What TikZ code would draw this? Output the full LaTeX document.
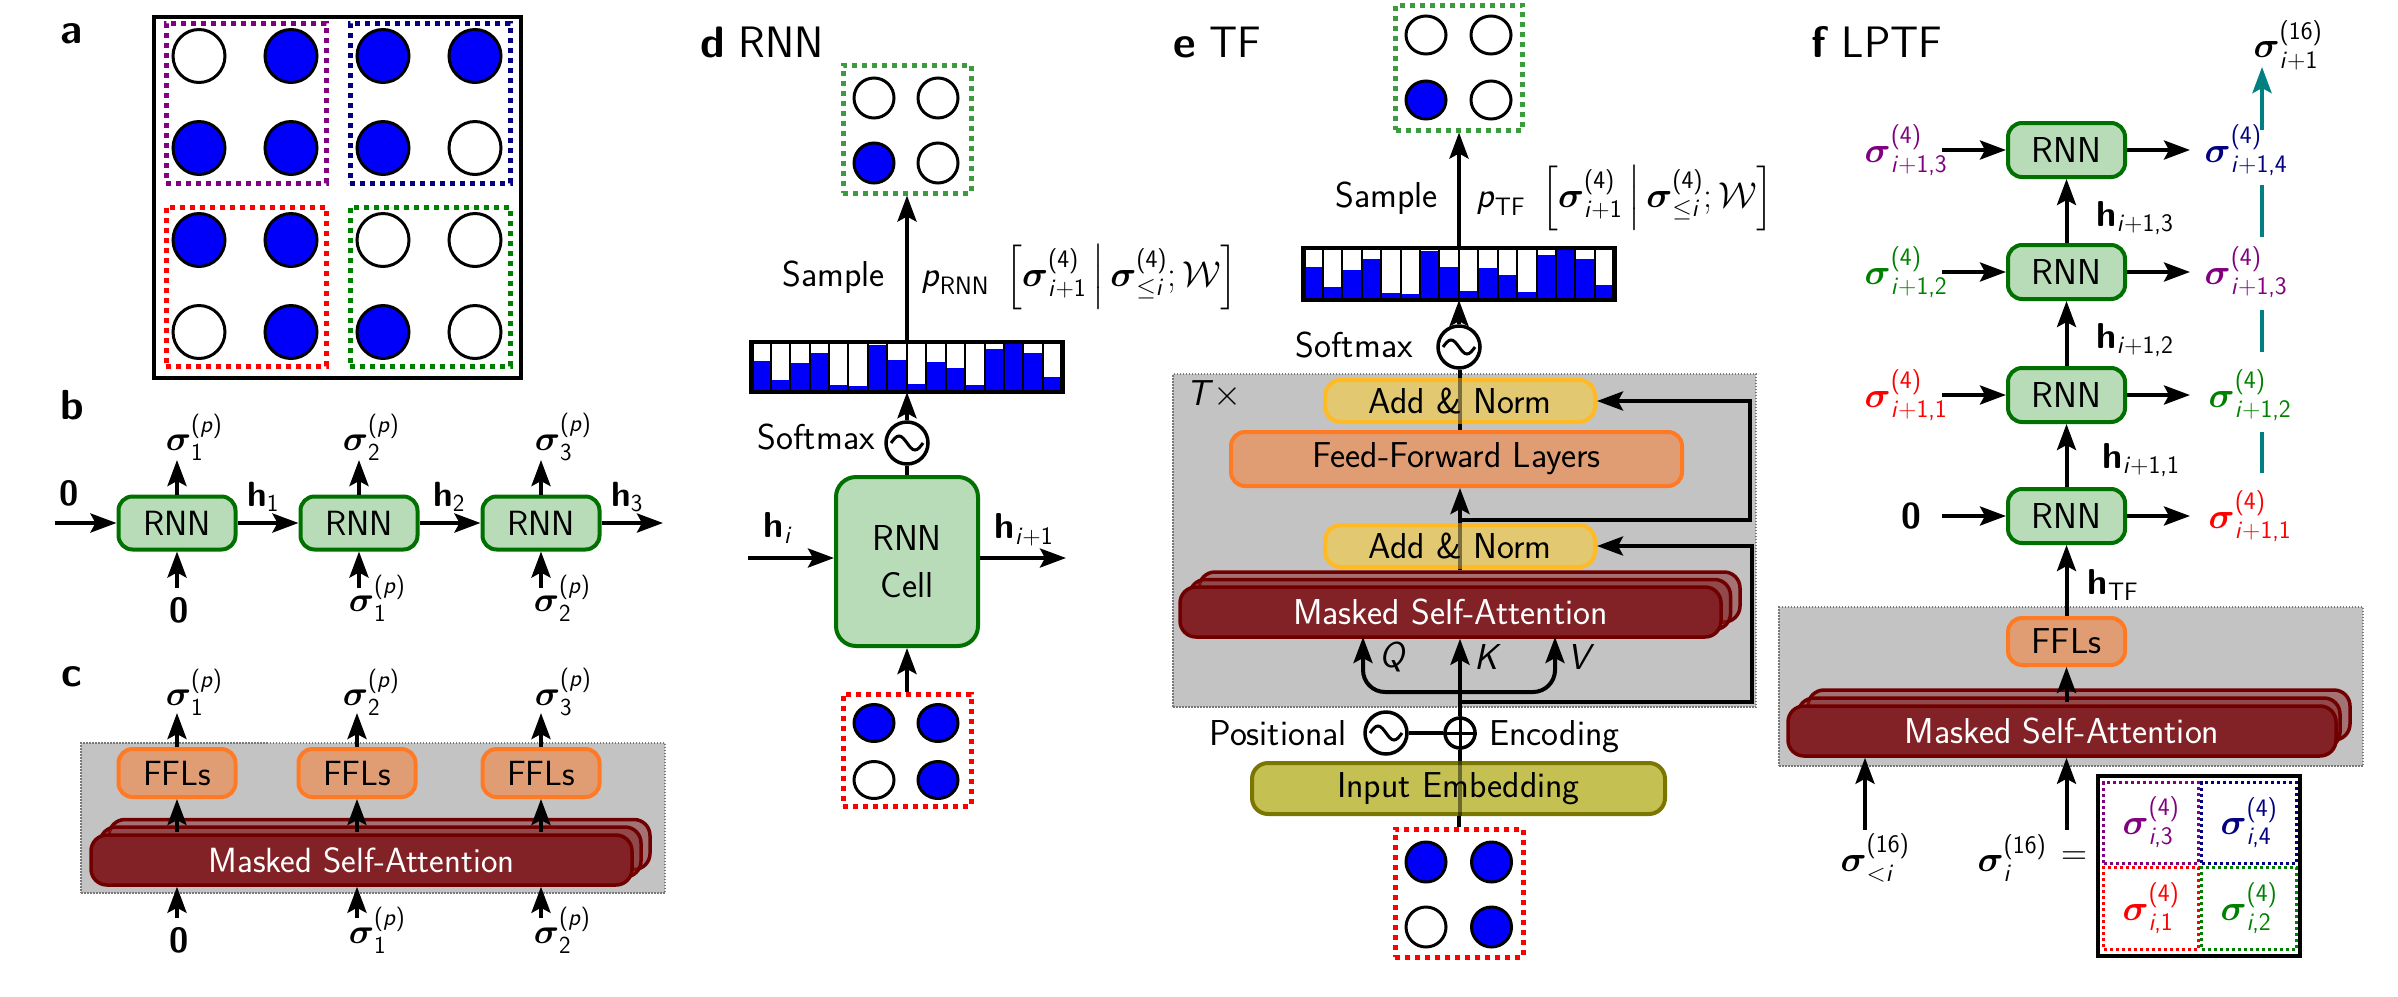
\documentclass[tikz,border=0pt]{standalone}
\usepackage{fix-cm}
\usepackage{amsmath,amssymb}
\usetikzlibrary{arrows.meta,shapes.geometric}
\definecolor{rnnF}{RGB}{184,220,184}
\definecolor{rnnB}{RGB}{0,112,0}
\definecolor{fflF}{RGB}{224,157,116}
\definecolor{fflB}{RGB}{255,122,36}
\definecolor{anF}{RGB}{226,200,112}
\definecolor{anB}{RGB}{255,186,36}
\definecolor{emF}{RGB}{196,192,82}
\definecolor{emB}{RGB}{122,118,0}
\definecolor{msaF}{RGB}{130,34,38}
\definecolor{msaB}{RGB}{112,0,0}
\definecolor{grayF}{RGB}{196,195,196}
\definecolor{grayB}{RGB}{120,120,120}
\definecolor{spinB}{RGB}{0,0,250}
\definecolor{cPur}{RGB}{128,0,128}
\definecolor{cNavy}{RGB}{0,0,128}
\definecolor{cRed}{RGB}{255,0,0}
\definecolor{cGrn}{RGB}{0,128,0}
\definecolor{cGrnL}{RGB}{60,155,60}
\definecolor{cTeal}{RGB}{0,128,128}
\tikzset{
  tx/.style={font=\sffamily\fontsize{36}{43}\selectfont, inner sep=0},
  txb/.style={font=\sffamily\fontsize{35}{42}\selectfont, inner sep=0},
  ttl/.style={font=\sffamily\fontsize{44}{52}\selectfont, inner sep=0, anchor=base west},
  plabel/.style={font=\sffamily\bfseries\fontsize{42}{50}\selectfont, inner sep=0},
  arr/.style={line width=4, -{Stealth[length=26pt, width=19pt, inset=5pt]}},
  ln/.style={line width=4},
  thru/.style={line width=4, draw opacity=0.45},
  rnnbox/.style={draw=rnnB, fill=rnnF, line width=4, rounded corners=14, inner sep=0},
  fflbox/.style={draw=fflB, fill=fflF, line width=4, rounded corners=14, inner sep=0},
  anbox/.style={draw=anB, fill=anF, line width=4, rounded corners=16, inner sep=0},
  embox/.style={draw=emB, fill=emF, line width=4, rounded corners=16, inner sep=0},
  msaback/.style={draw=msaB, fill=msaF, line width=3.5, rounded corners=16, inner sep=0, fill opacity=0.5},
  msafront/.style={draw=msaB, fill=msaF, line width=3.5, rounded corners=16, inner sep=0, text=white},
  graybox/.style={draw=grayB, fill=grayF, line width=1.5, dash pattern=on 1.5pt off 1.5pt, inner sep=0},
  dotbox/.style={line width=5, dash pattern=on 5pt off 5pt, inner sep=0},
  dotsmall/.style={line width=3, dash pattern=on 3pt off 3pt, inner sep=0},
  spin/.style={ellipse, draw, line width=3, inner sep=0},
  symb/.style={circle, draw, line width=3.5, inner sep=0, fill=white},
  tealln/.style={line width=4.5, draw=cTeal},
  tealarr/.style={line width=4.5, draw=cTeal, -{Stealth[length=26pt, width=19pt, inset=5pt]}, fill=cTeal},
}
\newcommand\histbars[3]{%
  \begin{scope}[shift={(#1.south west)}]
    \foreach \f [count=\k from 0] in {0.63,0.25,0.58,0.79,0.14,0.12,0.94,0.64,0.17,0.61,0.48,0.15,0.86,0.96,0.79,0.30}{%
      \fill[spinB] ({\k*#2/16},0) rectangle ({(\k+1)*#2/16},{-\f*#3});
    }
    \foreach \k in {1,...,15}{\draw[line width=2] ({\k*#2/16},0) -- ({\k*#2/16},{-#3});}
  \end{scope}
  \draw[line width=4.5] (#1.south west) rectangle (#1.north east);
}
\newcommand\sinewave[3]{\draw[line width=3] ([xshift=-#2]#1.center) sin ([xshift=-#2/2,yshift=#3]#1.center) cos (#1.center) sin ([xshift=#2/2,yshift=-#3]#1.center) cos ([xshift=#2]#1.center);}
% sigma with sans super/subscripts
\newcommand\sg[2]{\boldsymbol{\sigma}^{\text{#1}}_{\text{#2}}}
\newcommand\hh[1]{\text{\textbf{h}}_{\text{#1}}}
\newcommand\zb{\text{\textbf{0}}}
\newcommand\ii{\textit{i}}
\begin{document}
\begin{tikzpicture}[x=1pt,y=-1pt]
\useasboundingbox (0,0) rectangle (2398,996);

%%%%%%%%%%%%%%%% panel a
\node[plabel] (la) at (72,34) {a};
\node[draw, line width=3.5, minimum width=367, minimum height=361, inner sep=0] (fa) at (337.5,197.5) {};
\node[dotbox, draw=cPur, minimum width=160, minimum height=160] (ga1) at (246,103) {};
\node[dotbox, draw=cNavy, minimum width=160, minimum height=160] (ga2) at (430,103) {};
\node[dotbox, draw=cRed, minimum width=160, minimum height=159] (ga3) at (246,286.5) {};
\node[dotbox, draw=cGrn, minimum width=160, minimum height=159] (ga4) at (430,286.5) {};
\foreach \nm/\xx/\yy/\cc in {a11/199/56/white, a12/291/56/spinB, a13/383/56/spinB, a14/475/56/spinB,
  a21/199/148/spinB, a22/291/148/spinB, a23/383/148/spinB, a24/475/148/white,
  a31/199/240/spinB, a32/291/240/spinB, a33/383/240/white, a34/475/240/white,
  a41/199/332/white, a42/291/332/spinB, a43/383/332/spinB, a44/475/332/white}{
  \node[spin, fill=\cc, minimum width=52, minimum height=53] (\nm) at (\xx,\yy) {};
}

%%%%%%%%%%%%%%%% panel b
\node[plabel] (lb) at (72,405) {b};
\node[rnnbox, txb, minimum width=117, minimum height=53] (rb1) at (177,523) {RNN};
\node[rnnbox, txb, minimum width=117, minimum height=53] (rb2) at (359,523) {RNN};
\node[rnnbox, txb, minimum width=117, minimum height=53] (rb3) at (541,523) {RNN};
\coordinate (bin) at (55,523);
\coordinate (bout) at (663,523);
\draw[arr] (bin) -- (rb1.west);
\draw[arr] (rb1.east) -- (rb2.west);
\draw[arr] (rb2.east) -- (rb3.west);
\draw[arr] (rb3.east) -- (bout);
\node[txb] (bz) at (69,493) {$\zb$};
\node[txb] (bh1) at (263,497) {$\hh{1}$};
\node[txb] (bh2) at (449,497) {$\hh{2}$};
\node[txb] (bh3) at (627,497) {$\hh{3}$};
\coordinate (bu1) at (177,460); \coordinate (bu2) at (359,460); \coordinate (bu3) at (541,460);
\draw[arr] (rb1.north) -- (bu1);
\draw[arr] (rb2.north) -- (bu2);
\draw[arr] (rb3.north) -- (bu3);
\node[txb] (bs1) at (194,437) {$\sg{(\textit{p})}{1}$};
\node[txb] (bs2) at (371,437) {$\sg{(\textit{p})}{2}$};
\node[txb] (bs3) at (563,437) {$\sg{(\textit{p})}{3}$};
\coordinate (bd1) at (177,588); \coordinate (bd2) at (359,588); \coordinate (bd3) at (541,588);
\draw[arr] (bd1) -- (rb1.south);
\draw[arr] (bd2) -- (rb2.south);
\draw[arr] (bd3) -- (rb3.south);
\node[txb] (bi1) at (179,610) {$\zb$};
\node[txb] (bi2) at (377,598) {$\sg{(\textit{p})}{1}$};
\node[txb] (bi3) at (562,598) {$\sg{(\textit{p})}{2}$};

%%%%%%%%%%%%%%%% panel c
\node[plabel] (lc) at (72,677) {c};
\node[graybox, minimum width=584, minimum height=150] (gc) at (373,818) {};
\node[msaback, minimum width=541, minimum height=50] (mc3) at (379.5,844.5) {};
\node[msaback, minimum width=541, minimum height=50] (mc2) at (370.5,852) {};
\node[msafront, txb, minimum width=541, minimum height=50] (mc1) at (361.5,860) {Masked Self-Attention};
\node[fflbox, txb, minimum width=117, minimum height=48] (fc1) at (177,773) {FFLs};
\node[fflbox, txb, minimum width=117, minimum height=48] (fc2) at (357,773) {FFLs};
\node[fflbox, txb, minimum width=117, minimum height=48] (fc3) at (541,773) {FFLs};
\coordinate (cm1) at (177,832); \coordinate (cm2) at (357,832); \coordinate (cm3) at (541,832);
\draw[arr] (cm1) -- (fc1.south);
\draw[arr] (cm2) -- (fc2.south);
\draw[arr] (cm3) -- (fc3.south);
\coordinate (cu1) at (177,713); \coordinate (cu2) at (357,713); \coordinate (cu3) at (541,713);
\draw[arr] (fc1.north) -- (cu1);
\draw[arr] (fc2.north) -- (cu2);
\draw[arr] (fc3.north) -- (cu3);
\node[txb] (cs1) at (194,692) {$\sg{(\textit{p})}{1}$};
\node[txb] (cs2) at (371,692) {$\sg{(\textit{p})}{2}$};
\node[txb] (cs3) at (563,692) {$\sg{(\textit{p})}{3}$};
\coordinate (cd1) at (177,918); \coordinate (cd2) at (357,918); \coordinate (cd3) at (541,918);
\draw[arr] (cd1) -- (cd1 |- mc1.south);
\draw[arr] (cd2) -- (cd2 |- mc1.south);
\draw[arr] (cd3) -- (cd3 |- mc1.south);
\node[txb] (ci1) at (179,940) {$\zb$};
\node[txb] (ci2) at (377,930) {$\sg{(\textit{p})}{1}$};
\node[txb] (ci3) at (562,930) {$\sg{(\textit{p})}{2}$};

%%%%%%%%%%%%%%%% panel d
\node[ttl] (td) at (700,57) {\textbf{d} RNN};
\node[dotbox, draw=cGrnL, minimum width=128, minimum height=128] (dtop) at (907,129) {};
\foreach \nm/\xx/\yy/\cc in {d11/874/98/white, d12/938/98/white, d21/874/163/spinB, d22/938/163/white}{
  \node[spin, fill=\cc, minimum width=40, minimum height=40] (\nm) at (\xx,\yy) {};
}
\node[minimum width=311, minimum height=50, inner sep=0, fill=white] (histd) at (907,367) {};
\histbars{histd}{311}{50}
\draw[arr] (histd.north) -- (dtop.south);
\node[tx, anchor=east] (sampd) at (885,277) {Sample};
\node[tx, anchor=west] (pd) at (921,277) {$\text{\textit{p}}_{\text{RNN}}\;\left[\sg{(4)}{\ii+1}\,\middle|\,\sg{(4)}{$\leq$\ii};\mathcal{W}\right]$};
\node[symb, minimum size=42] (smd) at (907,443) {};
\sinewave{smd}{16}{7}
\node[tx, anchor=east] (smtd) at (875,437) {Softmax};
\draw[arr] (smd.north) -- (histd.south);
\node[rnnbox, font=\sffamily\fontsize{36}{47}\selectfont, align=center, rounded corners=20, minimum width=142, minimum height=169] (celld) at (907,561.5) {RNN\\Cell};
\draw[ln] (celld.north) -- (smd.south);
\coordinate (dhin) at (748,558);
\coordinate (dhout) at (1066,558);
\draw[arr] (dhin) -- (dhin -| celld.west);
\draw[arr] (dhout -| celld.east) -- (dhout);
\node[tx] (dhi) at (778,528) {$\hh{\ii}$};
\node[tx] (dhi1) at (1024,530) {$\hh{\ii+1}$};
\node[dotbox, draw=cRed, minimum width=128, minimum height=112] (dbot) at (907,750) {};
\foreach \nm/\xx/\yy/\cc in {d31/874/723/spinB, d32/938/723/spinB, d41/874/780/white, d42/938/780/spinB}{
  \node[spin, fill=\cc, minimum width=40, minimum height=37] (\nm) at (\xx,\yy) {};
}
\draw[arr] (dbot.north) -- (celld.south);

%%%%%%%%%%%%%%%% panel e
\node[ttl] (te) at (1173,57) {\textbf{e} TF};
\node[dotbox, draw=cGrnL, minimum width=127, minimum height=125] (etop) at (1459,67.5) {};
\foreach \nm/\xx/\yy/\cc in {e11/1426/35/white, e12/1491/35/white, e21/1426/100/spinB, e22/1491/100/white}{
  \node[spin, fill=\cc, minimum width=40, minimum height=38] (\nm) at (\xx,\yy) {};
}
\node[minimum width=311, minimum height=52, inner sep=0, fill=white] (histe) at (1459,274) {};
\histbars{histe}{311}{52}
\draw[arr] (histe.north) -- (etop.south);
\node[tx, anchor=east] (sampe) at (1438,198) {Sample};
\node[tx, anchor=west] (pe) at (1476,198) {$\text{\textit{p}}_{\text{TF}}\;\left[\sg{(4)}{\ii+1}\,\middle|\,\sg{(4)}{$\leq$\ii};\mathcal{W}\right]$};
\node[symb, minimum size=42] (sme) at (1459,347) {};
\sinewave{sme}{16}{7}
\node[tx, anchor=east] (smte) at (1413,345) {Softmax};
\draw[arr] (sme.north) -- (histe.south);
\node[graybox, minimum width=583, minimum height=333] (gre) at (1464.5,540.5) {};
\node[tx] (tte) at (1214,395) {\textit{T}$\times$};
\node[msaback, minimum width=541, minimum height=50] (me3) at (1469.5,597) {};
\node[msaback, minimum width=541, minimum height=50] (me2) at (1460,604.5) {};
\node[msafront, tx, minimum width=541, minimum height=50] (me1) at (1450.5,612) {Masked Self-Attention};
\node[anbox, tx, minimum width=270, minimum height=42] (ant) at (1460,401) {Add \& Norm};
\node[fflbox, tx, minimum width=451, minimum height=54] (ffe) at (1456.5,459) {Feed-Forward Layers};
\node[anbox, tx, minimum width=270, minimum height=42] (anb) at (1460,546) {Add \& Norm};
\draw[ln] (anb.south |- me3.north) -- (anb.south);
\draw[thru] (anb.south) -- (anb.north);
\draw[arr] (anb.north) -- (anb.north |- ffe.south);
\draw[ln] (ant.south |- ffe.north) -- (ant.south);
\draw[thru] (ant.south) -- (ant.north);
\draw[ln] (ant.north) -- (ant.north |- sme.south);
\coordinate (r1s) at (1460,520); \coordinate (r1c) at (1750,520);
\draw[arr] (r1s) -- (r1c) |- (ant.east);
\coordinate (r2s) at (1460,702); \coordinate (r2c) at (1752,702);
\draw[arr] (r2s) -- (r2c) |- (anb.east);
\coordinate (qvs) at (1460,692);
\coordinate (qe) at (1363,637);
\coordinate (ve) at (1555,637);
\draw[arr, rounded corners=22] (qvs) -| (qe);
\draw[arr, rounded corners=22] (qvs) -| (ve);
\node[tx] (lq) at (1393,657) {\textit{Q}};
\node[tx] (lk) at (1488,657) {\textit{K}};
\node[tx] (lv) at (1581,657) {\textit{V}};
\node[symb, minimum size=42] (pose) at (1386,733) {};
\sinewave{pose}{16}{7}
\node[symb, minimum size=30] (pluse) at (1460,733) {};
\draw[line width=3] (pluse.north) -- (pluse.south) (pluse.west) -- (pluse.east);
\draw[ln] (pose.east) -- (pluse.west);
\draw[arr] (pluse.north) -- (pluse.north |- me1.south);
\node[tx, anchor=east] (tpos) at (1347,733) {Positional};
\node[tx, anchor=west] (tenc) at (1489,737) {Encoding};
\node[embox, tx, minimum width=413, minimum height=51] (embe) at (1458.5,788.5) {Input Embedding};
\draw[ln] (pluse.south |- embe.north) -- (pluse.south);
\draw[thru] (pluse.south |- embe.south) -- (pluse.south |- embe.north);
\node[dotbox, draw=cRed, minimum width=128, minimum height=128] (ebot) at (1459,893) {};
\foreach \nm/\xx/\yy/\cc in {e31/1426/862/spinB, e32/1491.5/862/spinB, e41/1426/927/white, e42/1491.5/927/spinB}{
  \node[spin, fill=\cc, minimum width=40, minimum height=40] (\nm) at (\xx,\yy) {};
}
\draw[ln] (ebot.north) -- (ebot.north |- embe.south);

%%%%%%%%%%%%%%%% panel f
\node[ttl] (tf) at (1811,57) {\textbf{f} LPTF};
\node[tx] (sf16) at (2288,45) {$\sg{(16)}{\ii+1}$};
\node[rnnbox, tx, minimum width=117, minimum height=54] (rf4) at (2066.5,150) {RNN};
\node[rnnbox, tx, minimum width=117, minimum height=54] (rf3) at (2066.5,272) {RNN};
\node[rnnbox, tx, minimum width=117, minimum height=54] (rf2) at (2066.5,395) {RNN};
\node[rnnbox, tx, minimum width=117, minimum height=54] (rf1) at (2066.5,516) {RNN};
\node[tx, text=cPur] (lf4) at (1906,150) {$\sg{(4)}{\ii+1,3}$};
\node[tx, text=cGrn] (lf3) at (1906,272) {$\sg{(4)}{\ii+1,2}$};
\node[tx, text=cRed] (lf2) at (1906,395) {$\sg{(4)}{\ii+1,1}$};
\node[tx] (lf1) at (1911,516) {$\zb$};
\coordinate (fl4) at (1942,150); \coordinate (fl3) at (1942,272);
\coordinate (fl2) at (1942,395); \coordinate (fl1) at (1942,516);
\draw[arr] (fl4) -- (rf4.west);
\draw[arr] (fl3) -- (rf3.west);
\draw[arr] (fl2) -- (rf2.west);
\draw[arr] (fl1) -- (rf1.west);
\coordinate (fr4) at (2190,150); \coordinate (fr3) at (2190,272);
\coordinate (fr2) at (2190,395); \coordinate (fr1) at (2190,516);
\draw[arr] (rf4.east) -- (fr4);
\draw[arr] (rf3.east) -- (fr3);
\draw[arr] (rf2.east) -- (fr2);
\draw[arr] (rf1.east) -- (fr1);
\node[tx, text=cNavy] (rl4) at (2246,150) {$\sg{(4)}{\ii+1,4}$};
\node[tx, text=cPur] (rl3) at (2246,272) {$\sg{(4)}{\ii+1,3}$};
\node[tx, text=cGrn] (rl2) at (2250,395) {$\sg{(4)}{\ii+1,2}$};
\node[tx, text=cRed] (rl1) at (2250,516) {$\sg{(4)}{\ii+1,1}$};
\draw[arr] (rf1.north) -- (rf2.south);
\draw[arr] (rf2.north) -- (rf3.south);
\draw[arr] (rf3.north) -- (rf4.south);
\node[tx] (hf3) at (2135,218) {$\hh{\ii+1,3}$};
\node[tx] (hf2) at (2135,340) {$\hh{\ii+1,2}$};
\node[tx] (hf1) at (2141,460) {$\hh{\ii+1,1}$};
\node[tx] (hftf) at (2113,585) {$\hh{TF}$};
\coordinate (t1a) at (2262,473); \coordinate (t1b) at (2262,432);
\coordinate (t2a) at (2262,352); \coordinate (t2b) at (2262,310);
\coordinate (t3a) at (2262,237); \coordinate (t3b) at (2262,185);
\coordinate (t4a) at (2262,130); \coordinate (t4b) at (2262,67);
\draw[tealln] (t1a) -- (t1b);
\draw[tealln] (t2a) -- (t2b);
\draw[tealln] (t3a) -- (t3b);
\draw[tealarr] (t4a) -- (t4b);
\node[graybox, minimum width=584, minimum height=159] (gf) at (2071,686.5) {};
\node[msaback, minimum width=542, minimum height=50] (mf3) at (2079,715) {};
\node[msaback, minimum width=542, minimum height=50] (mf2) at (2069,723) {};
\node[msafront, tx, minimum width=548, minimum height=50] (mf1) at (2062,731) {Masked Self-Attention};
\node[fflbox, tx, minimum width=117, minimum height=47] (fff) at (2066.5,641.5) {FFLs};
\draw[arr] (fff.north) -- (rf1.south);
\coordinate (fm) at (2066.5,702);
\draw[arr] (fm) -- (fff.south);
\coordinate (fb1) at (1865,830); \coordinate (fb2) at (2066.5,830);
\draw[arr] (fb1) -- (fb1 |- mf1.south);
\draw[arr] (fb2) -- (fb2 |- mf1.south);
\node[tx] (slt) at (1875,858) {$\sg{(16)}{$<$\ii}$};
\node[tx] (si) at (2012,858) {$\sg{(16)}{\ii}$};
\node[tx] (eq) at (2074,858) {$=$};
\node[draw, line width=4, minimum width=201.5, minimum height=180, inner sep=0] (gridf) at (2199,866) {};
\node[dotsmall, draw=cPur, text=cPur, font=\sffamily\fontsize{36}{43}\selectfont, minimum width=94.6, minimum height=81] (g3) at (2151,822.5) {$\sg{(4)}{\ii,3}$};
\node[dotsmall, draw=cNavy, text=cNavy, font=\sffamily\fontsize{36}{43}\selectfont, minimum width=94.6, minimum height=81] (g4) at (2249,822.5) {$\sg{(4)}{\ii,4}$};
\node[dotsmall, draw=cRed, text=cRed, font=\sffamily\fontsize{36}{43}\selectfont, minimum width=94.6, minimum height=82] (g1) at (2151,908) {$\sg{(4)}{\ii,1}$};
\node[dotsmall, draw=cGrn, text=cGrn, font=\sffamily\fontsize{36}{43}\selectfont, minimum width=94.6, minimum height=82] (g2) at (2249,908) {$\sg{(4)}{\ii,2}$};
\end{tikzpicture}
\end{document}
